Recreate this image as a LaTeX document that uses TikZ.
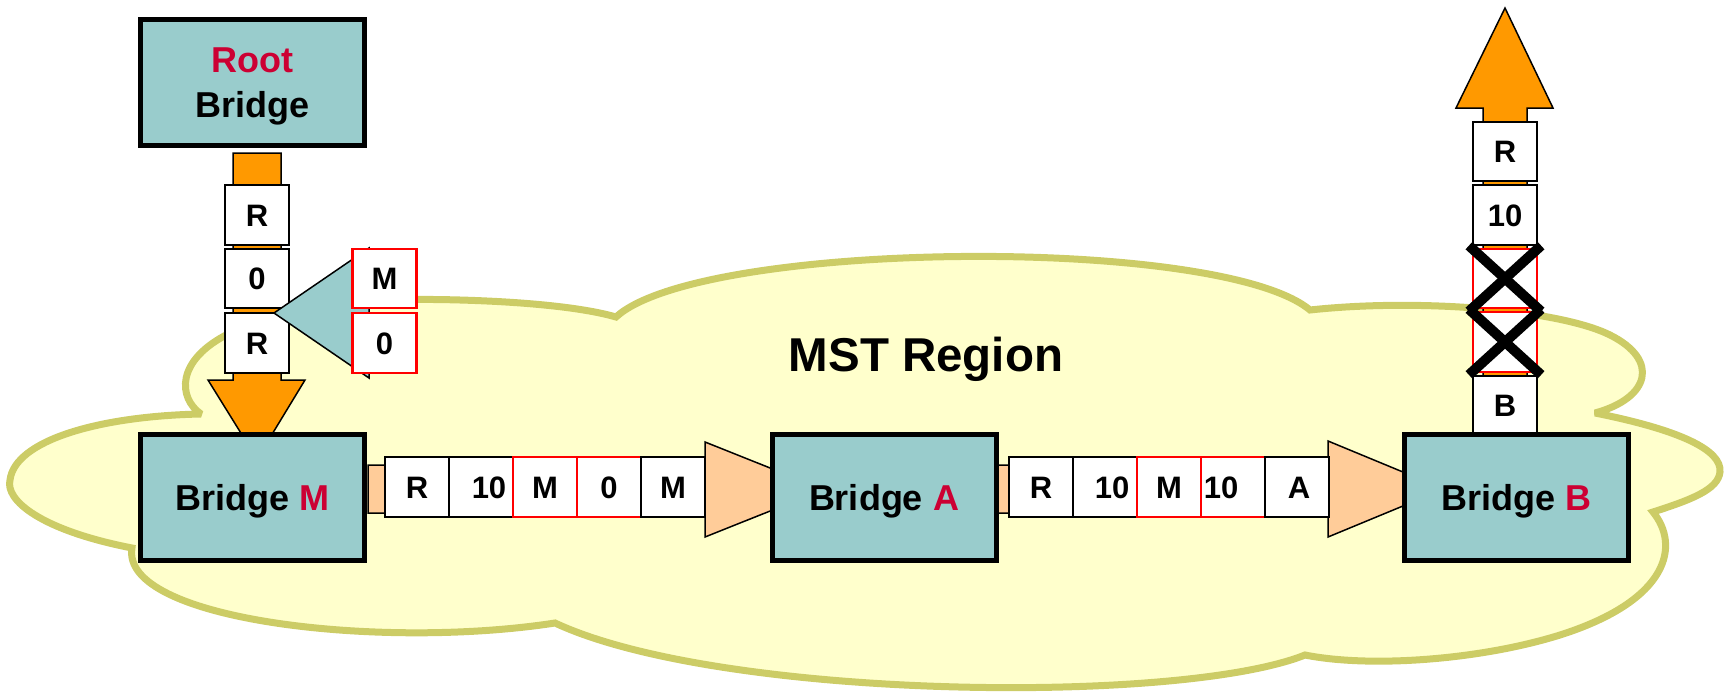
\documentclass[tikz,border=0pt]{standalone}
\usepackage{fontspec}
\setmainfont{Liberation Sans}
\usetikzlibrary{calc}
\definecolor{bridgeTeal}{HTML}{99CCCC}
\definecolor{arrowOrange}{HTML}{FF9900}
\definecolor{pktOrange}{HTML}{FFCC99}
\definecolor{regionFill}{HTML}{FFFFCC}
\definecolor{regionLine}{HTML}{CCCC66}
\definecolor{labelRed}{HTML}{CC0033}
\definecolor{cellRed}{HTML}{FF0000}
\begin{document}
\begin{tikzpicture}[x=1pt,y=-1pt]
\tikzset{
  bridgebox/.style={draw=black, line width=5pt, fill=bridgeTeal,
    minimum width=224pt, minimum height=126pt, inner sep=0pt,
    font=\fontsize{36}{45}\selectfont\bfseries, text depth=0pt, align=center},
  pktcell/.style={draw=black, line width=1.6pt, fill=white,
    minimum width=64pt, minimum height=59.5pt, inner sep=0pt,
    font=\fontsize{31}{31}\selectfont\bfseries, text height=22.2pt, text depth=0pt},
  redpktcell/.style={pktcell, draw=cellRed, line width=2.2pt},
  rootarrow/.style={draw=black, line width=1.5pt, fill=arrowOrange, line join=miter},
  pktarrow/.style={draw=black, line width=1.5pt, fill=pktOrange, line join=miter},
  mergearrow/.style={draw=black, line width=1.5pt, fill=bridgeTeal, line join=miter},
  strikeline/.style={draw=black, line width=10pt, line cap=butt},
  regionshape/.style={draw=regionLine, line width=7pt, fill=regionFill,
    line join=miter, miter limit=2},
}
\useasboundingbox (0,0) rectangle (1727,693);

% MST region cloud
\draw[regionshape] (201,414)
  .. controls (178,398) and (175,360) .. (230,333)
  .. controls (290,300) and (390,298) .. (460,300)
  .. controls (530,302) and (585,308) .. (616,317)
  .. controls (700,240) and (1220,235) .. (1310,310)
  .. controls (1420,298) and (1560,310) .. (1610,335)
  .. controls (1660,360) and (1650,398) .. (1595,413)
  .. controls (1680,430) and (1722,450) .. (1720,472)
  .. controls (1718,490) and (1690,500) .. (1653,512)
  .. controls (1680,545) and (1670,600) .. (1560,635)
  .. controls (1480,660) and (1370,668) .. (1305,655)
  .. controls (1180,705) and (720,700) .. (555,623)
  .. controls (380,650) and (120,620) .. (132,548)
  .. controls (40,530) and (5,500) .. (10,480)
  .. controls (15,440) and (100,416) .. (201,414) -- cycle;

\node[font=\fontsize{47.5}{50}\selectfont\bfseries, anchor=base] (mst) at (926,371) {MST Region};

% root bridge down to bridge M
\draw[rootarrow] (233,153) -- (281,153) -- (281,380) -- (305,380) -- (257,459)
  -- (208,380) -- (233,380) -- cycle;
\node[pktcell] (d1) at (257,215) {R};
\node[pktcell] (d2) at (257,278.5) {0};
\node[pktcell] (d3) at (257,343) {R};

% bridge M's own fields merged into the BPDU
\draw[mergearrow] (274,313) -- (369,248) -- (369,378) -- cycle;
\node[redpktcell] (m1) at (384.5,278.5) {M};
\node[redpktcell] (m2) at (384.5,343) {0};

% bridge M to bridge A
\draw[pktarrow] (368,465) -- (705,465) -- (705,442) -- (824,489.5) -- (705,537)
  -- (705,513) -- (368,513) -- cycle;
\node[pktcell] (p1) at (417,487) {R};
\node[pktcell] (p2) at (481,487) {\kern16pt10};
\node[redpktcell] (p3) at (545,487) {M};
\node[redpktcell] (p4) at (609,487) {0};
\node[pktcell] (p5) at (673,487) {M};

% bridge A to bridge B
\draw[pktarrow] (997,465) -- (1328,465) -- (1328,441) -- (1444,489) -- (1328,537)
  -- (1328,513) -- (997,513) -- cycle;
\node[pktcell] (q1) at (1041,487) {R};
\node[pktcell] (q2) at (1105,487) {\kern14pt10};
\node[redpktcell] (q3) at (1169,487) {M};
\node[redpktcell] (q4) at (1233,487) {10\kern24pt};
\node[pktcell] (q5) at (1297,487) {\kern4ptA};

% bridge B leaving the region
\draw[rootarrow] (1483,437) -- (1483,108) -- (1456,108) -- (1505,8) -- (1553,108)
  -- (1527,108) -- (1527,437) -- cycle;
\node[pktcell] (u1) at (1505,151.5) {R};
\node[pktcell] (u2) at (1505,215) {10};
\node[redpktcell] (u3) at (1505,278.5) {};
\node[redpktcell] (u4) at (1505,342) {};
\node[pktcell] (u5) at (1505,405.5) {B};
\draw[strikeline] ([shift={(-3pt,2pt)}]u3.north west) -- ([shift={(3pt,-2pt)}]u3.south east);
\draw[strikeline] ([shift={(-3pt,-2pt)}]u3.south west) -- ([shift={(3pt,2pt)}]u3.north east);
\draw[strikeline] ([shift={(-3pt,2pt)}]u4.north west) -- ([shift={(3pt,-2pt)}]u4.south east);
\draw[strikeline] ([shift={(-3pt,-2pt)}]u4.south west) -- ([shift={(3pt,2pt)}]u4.north east);

% bridges
\node[bridgebox] (root) at (252.5,82.5) {\textcolor{labelRed}{Root}\\Bridge};
\node[bridgebox] (bm) at (252.5,497.5) {Bridge \textcolor{labelRed}{M}};
\node[bridgebox] (ba) at (884,497.5) {Bridge \textcolor{labelRed}{A}};
\node[bridgebox] (bb) at (1516,497.5) {Bridge \textcolor{labelRed}{B}};
\end{tikzpicture}
\end{document}
